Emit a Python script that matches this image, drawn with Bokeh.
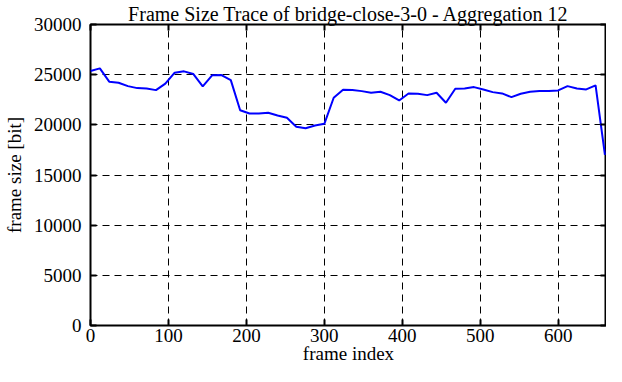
from bokeh.plotting import figure
from bokeh.models import Range1d, LinearAxis, FixedTicker, ColumnDataSource, CustomJSTickFormatter
from bokeh.embed import file_html
from bokeh.resources import INLINE

frame_index = list(range(0, 661, 12))
frame_size = [
    25360, 25630, 24300, 24200, 23860, 23660, 23630, 23460, 24100, 25200,
    25330, 25060, 23830, 24930, 24960, 24460, 21460, 21130, 21130, 21200,
    20930, 20700, 19800, 19660, 19930, 20100, 22700, 23500, 23460, 23360,
    23200, 23300, 22960, 22430, 23130, 23100, 22960, 23200, 22200, 23600,
    23630, 23760, 23530, 23260, 23130, 22760, 23100, 23300, 23360, 23360,
    23430, 23860, 23630, 23530, 23930, 17000,
]
x_ticks = [0, 100, 200, 300, 400, 500, 600]
y_ticks = [0, 5000, 10000, 15000, 20000, 25000, 30000]
x_max = 662

FONT = "Liberation Serif"

src = ColumnDataSource(dict(x=frame_index, y=frame_size))

p = figure(width=606, height=366, output_backend="svg", toolbar_location=None,
           x_range=Range1d(0, x_max), y_range=Range1d(0, 30000),
           title="Frame Size Trace of bridge-close-3-0 - Aggregation 12",
           min_border_left=84, min_border_right=0, min_border_top=23, min_border_bottom=0)

p.title.align = "center"
p.title.text_font = FONT
p.title.text_font_size = "20px"
p.title.text_font_style = "normal"
p.title.text_color = "black"
p.title.standoff = 0
p.title.offset = 0

p.line("x", "y", source=src, line_color="#0000ff", line_width=2)

p.outline_line_color = "black"
p.outline_line_width = 2
p.background_fill_color = "white"
p.border_fill_color = "white"

for ax in (p.xaxis[0], p.yaxis[0]):
    ax.axis_line_color = None
    ax.major_tick_in = 6
    ax.major_tick_out = 0
    ax.major_tick_line_width = 2
    ax.major_tick_line_color = "black"
    ax.minor_tick_line_color = None
    ax.major_label_text_font = FONT
    ax.major_label_text_font_size = "19px"
    ax.major_label_text_color = "black"
    ax.axis_label_text_font = FONT
    ax.axis_label_text_font_size = "19px"
    ax.axis_label_text_font_style = "normal"
    ax.axis_label_text_color = "black"

p.xaxis[0].ticker = FixedTicker(ticks=x_ticks)
p.yaxis[0].ticker = FixedTicker(ticks=y_ticks)
p.xaxis[0].axis_label = "frame index"
p.yaxis[0].axis_label = "frame size [bit]"
p.xaxis[0].major_label_standoff = 3
p.xaxis[0].axis_label_standoff = -2
p.yaxis[0].major_label_standoff = 9
p.yaxis[0].axis_label_standoff = 6

# mirrored ticks on top and right
blank = CustomJSTickFormatter(code="return ''")
top = LinearAxis(ticker=FixedTicker(ticks=x_ticks), axis_line_color=None,
                 major_tick_in=6, major_tick_out=0, major_tick_line_width=2,
                 minor_tick_line_color=None, formatter=blank,
                 major_label_standoff=0)
right = LinearAxis(ticker=FixedTicker(ticks=y_ticks), axis_line_color=None,
                   major_tick_in=6, major_tick_out=0, major_tick_line_width=2,
                   minor_tick_line_color=None, formatter=blank,
                   major_label_standoff=0)
p.add_layout(top, "above")
p.add_layout(right, "right")

for g in (p.xgrid[0], p.ygrid[0]):
    g.grid_line_color = "black"
    g.grid_line_width = 1
    g.grid_line_dash = "7 5"
p.xgrid[0].ticker = FixedTicker(ticks=x_ticks[1:])
p.ygrid[0].ticker = FixedTicker(ticks=y_ticks[1:-1])

open("out.html", "w").write(file_html(p, INLINE))
